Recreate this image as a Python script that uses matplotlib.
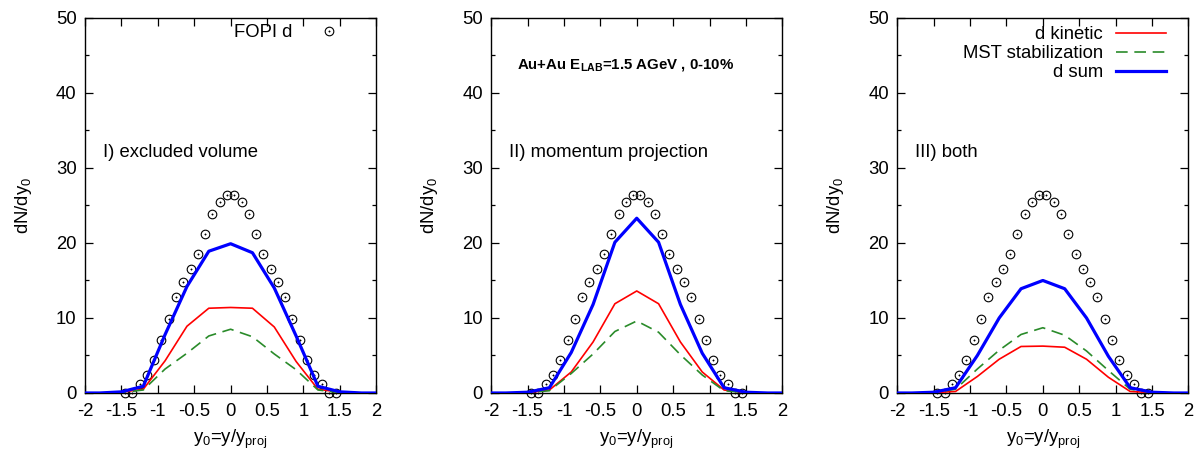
import matplotlib.pyplot as plt
from matplotlib.ticker import MultipleLocator

plt.rcParams['font.family'] = ['Liberation Sans', 'DejaVu Sans']
plt.rcParams['mathtext.fontset'] = 'custom'
plt.rcParams['mathtext.rm'] = 'Liberation Sans'
plt.rcParams['mathtext.bf'] = 'Liberation Sans:bold'
plt.rcParams['mathtext.default'] = 'regular'

# FOPI deuteron data
fopi_x = [-1.45, -1.35, -1.25, -1.15, -1.05, -0.95, -0.85, -0.75, -0.65, -0.55,
          -0.45, -0.35, -0.25, -0.15, -0.05, 0.05, 0.15, 0.25, 0.35, 0.45,
          0.55, 0.65, 0.75, 0.85, 0.95, 1.05, 1.15, 1.25, 1.35, 1.45]
fopi_y = [0.0, 0.0, 1.2, 2.4, 4.35, 7.0, 9.9, 12.8, 14.8, 16.5,
          18.5, 21.2, 23.8, 25.5, 26.4, 26.4, 25.5, 23.8, 21.2, 18.5,
          16.5, 14.8, 12.8, 9.9, 7.0, 4.35, 2.4, 1.2, 0.0, 0.0]

# model rapidity grid
y_model = [-2.1, -1.8, -1.5, -1.2, -0.9, -0.6, -0.3, 0.0, 0.3, 0.6, 0.9, 1.2, 1.5, 1.8, 2.1]

kin1 = [0, 0, 0.1, 0.5, 4.3, 8.9, 11.3, 11.4, 11.3, 8.8, 4.2, 0.5, 0.1, 0, 0]
mst1 = [0, 0, 0.05, 0.4, 3.2, 5.3, 7.6, 8.5, 7.5, 5.2, 3.1, 0.4, 0.05, 0, 0]
sum1 = [0, 0, 0.15, 0.9, 7.8, 14.2, 18.9, 19.9, 18.7, 14.0, 7.6, 0.9, 0.15, 0, 0]

kin2 = [0, 0, 0.05, 0.4, 2.8, 6.8, 11.9, 13.6, 11.9, 6.8, 2.8, 0.4, 0.05, 0, 0]
mst2 = [0, 0, 0.05, 0.3, 2.6, 5.2, 8.2, 9.6, 8.1, 5.1, 2.4, 0.3, 0.05, 0, 0]
sum2 = [0, 0, 0.1, 0.7, 5.4, 11.8, 20.1, 23.3, 20.1, 11.8, 5.3, 0.7, 0.1, 0, 0]

kin3 = [0, 0, 0.05, 0.2, 2.2, 4.5, 6.2, 6.25, 6.1, 4.5, 2.1, 0.2, 0.05, 0, 0]
mst3 = [0, 0, 0.05, 0.5, 3.2, 5.7, 7.8, 8.7, 7.7, 5.6, 3.0, 0.5, 0.05, 0, 0]
sum3 = [0, 0, 0.1, 0.7, 5.0, 10.0, 13.9, 15.0, 13.9, 10.0, 4.9, 0.7, 0.1, 0, 0]

panels = [
    ("I) excluded volume", kin1, mst1, sum1),
    ("II) momentum projection", kin2, mst2, sum2),
    ("III) both", kin3, mst3, sum3),
]

FS = 13.3

fig = plt.figure(figsize=(11.98, 4.54), dpi=100)
lefts = [0.071, 0.41, 0.749]

for i, (title, kin, mst, tot) in enumerate(panels):
    ax = fig.add_axes([lefts[i], 0.1344, 0.243, 0.826])
    h_c, = ax.plot(fopi_x, fopi_y, ls='none', marker='o', ms=6.2, mfc='none',
                   mec='black', mew=0.8, clip_on=False, zorder=2)
    h_d, = ax.plot(fopi_x, fopi_y, ls='none', marker='o', ms=1.0,
                   mfc='black', mec='black', mew=0.3, clip_on=False, zorder=2)
    h_kin, = ax.plot(y_model, kin, color='#ff0000', lw=1.2, zorder=3)
    h_mst, = ax.plot(y_model, mst, color='#2a8b2a', lw=1.2, dashes=(7, 4), zorder=3)
    h_sum, = ax.plot(y_model, tot, color='#0000ff', lw=2.3, zorder=3)

    ax.set_xlim(-2, 2)
    ax.set_ylim(0, 50)
    ax.xaxis.set_major_locator(MultipleLocator(0.5))
    ax.yaxis.set_major_locator(MultipleLocator(10))
    ax.yaxis.set_minor_locator(MultipleLocator(5))
    ax.tick_params(which='both', direction='in', top=True, right=True,
                   labelsize=FS, width=0.9)
    ax.tick_params(which='major', length=6, pad=6)
    ax.tick_params(axis='x', which='major', pad=7)
    ax.tick_params(which='minor', length=3)
    ax.xaxis.set_major_formatter(plt.FuncFormatter(lambda v, p: f'{v:g}'))
    for s in ax.spines.values():
        s.set_linewidth(1.0)

    ax.set_xlabel('y$_0$=y/y$_{proj}$', fontsize=FS, labelpad=6)
    ax.set_ylabel('dN/dy$_0$', fontsize=FS, labelpad=16)
    ax.text(-1.75, 32.1, title, fontsize=FS, va='center', ha='left')

    if i == 0:
        ax.legend([(h_c, h_d)], ['FOPI d'], loc='upper right', frameon=False,
                  markerfirst=False, fontsize=FS, handlelength=2.4,
                  handletextpad=0.8, borderaxespad=0.0,
                  bbox_to_anchor=(0.94, 1.003))
    if i == 1:
        ax.text(-1.64, 43.7, r'Au+Au E$_{\mathbf{LAB}}$=1.5 AGeV , 0-10%',
                fontsize=10.8, fontweight='bold', va='center', ha='left')
    if i == 2:
        ax.legend([h_kin, h_mst, h_sum],
                  ['d kinetic', 'MST stabilization', 'd sum'],
                  loc='upper right', frameon=False, markerfirst=False,
                  fontsize=FS, handlelength=2.7, handletextpad=0.7,
                  labelspacing=0.1, borderaxespad=0.0,
                  bbox_to_anchor=(0.947, 0.997))

fig.savefig('out.png', dpi=100)
